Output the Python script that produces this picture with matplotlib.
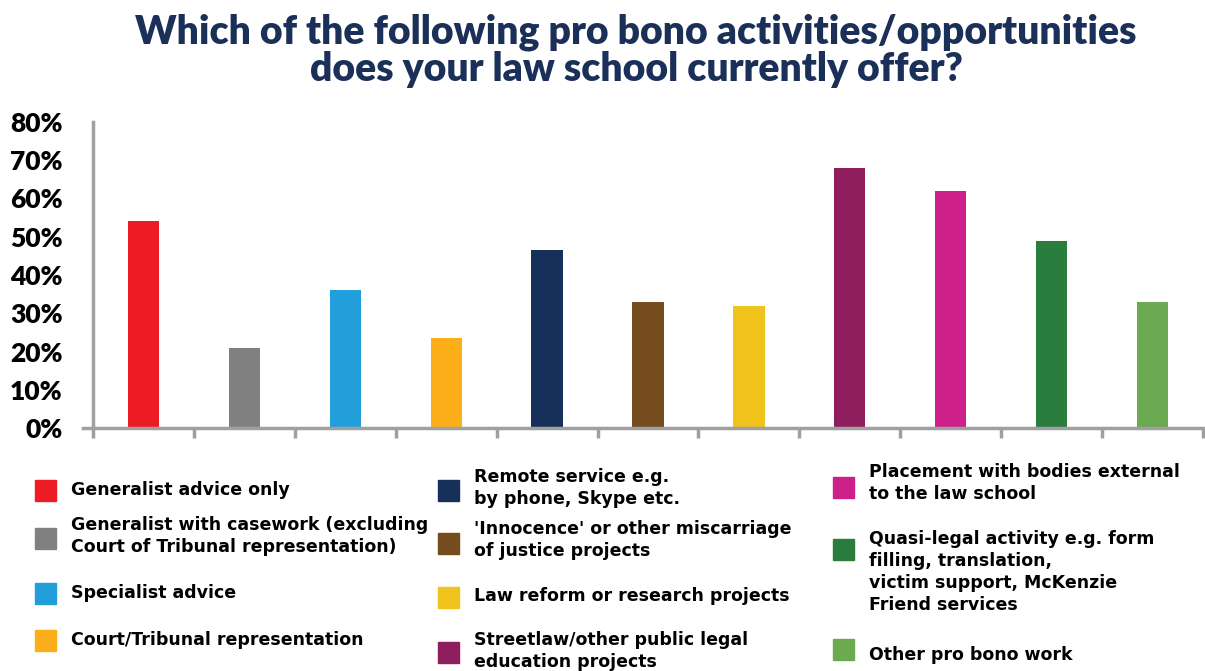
import matplotlib
matplotlib.use("Agg")
import matplotlib.pyplot as plt
from matplotlib.patches import Rectangle

# data
categories = [
    "Generalist advice only",
    "Generalist with casework (excluding\nCourt of Tribunal representation)",
    "Specialist advice",
    "Court/Tribunal representation",
    "Remote service e.g.\nby phone, Skype etc.",
    "'Innocence' or other miscarriage\nof justice projects",
    "Law reform or research projects",
    "Streetlaw/other public legal\neducation projects",
    "Placement with bodies external\nto the law school",
    "Quasi-legal activity e.g. form\nfilling, translation,\nvictim support, McKenzie\nFriend services",
    "Other pro bono work",
]
values = [0.54, 0.21, 0.36, 0.235, 0.465, 0.33, 0.32, 0.68, 0.62, 0.49, 0.33]
colors = ["#ED1C24", "#808080", "#229FDA", "#FBAE17", "#17305A", "#744C1E",
          "#F0C31C", "#8E1E5E", "#CE2089", "#2A7D3C", "#6CAA51"]
yticks = [0, 0.1, 0.2, 0.3, 0.4, 0.5, 0.6, 0.7, 0.8]
ytick_labels = ["0%", "10%", "20%", "30%", "40%", "50%", "60%", "70%", "80%"]

W, H = 1205, 671
fig = plt.figure(figsize=(W / 100, H / 100), dpi=100)
ax = fig.add_axes([83 / W, (H - 428) / H, (W - 83) / W, 306 / H])

x = list(range(len(values)))
ax.bar(x, values, width=0.31, color=colors)

spine_col = "#A0A0A0"
for s in ["top", "right"]:
    ax.spines[s].set_visible(False)
ax.spines["left"].set_position(("data", -0.5))
ax.spines["left"].set_color(spine_col)
ax.spines["left"].set_linewidth(2.5)
ax.spines["bottom"].set_color(spine_col)
ax.spines["bottom"].set_linewidth(2.5)

ax.set_xlim(-0.6, 10.52)
ax.set_ylim(0, 0.8)
ax.set_yticks(yticks)
ax.set_yticklabels(ytick_labels, fontsize=19, fontweight="heavy", family="Lato")
ax.tick_params(axis="y", length=0, pad=22)
ax.set_xticks([i - 0.5 for i in range(len(values) + 1)])
ax.set_xticklabels([])
ax.tick_params(axis="x", direction="out", length=7, width=2.5, color=spine_col)

fig.text(636 / W, 1 - 51 / H, "Which of the following pro bono activities/opportunities\ndoes your law school currently offer?",
         ha="center", va="center", fontsize=28.2, fontweight="heavy", family="Lato",
         color="#1B3058", linespacing=1.0)

# legend, drawn by hand in three columns
col_x = [35, 438, 833]
legend_pos = [
    (0, 490, 490), (0, 538, 536), (0, 593, 593), (0, 640, 640),
    (1, 490, 488), (1, 543, 540), (1, 597, 596), (1, 652, 651),
    (2, 487, 483), (2, 549, 572), (2, 649, 655),
]
for i, (c, my, ty) in enumerate(legend_pos):
    mx = col_x[c]
    fig.patches.append(Rectangle((mx / W, 1 - (my + 10.5) / H), 21 / W, 21 / H,
                                 transform=fig.transFigure, color=colors[i]))
    fig.text((mx + 36) / W, 1 - ty / H, categories[i], ha="left", va="center",
             fontsize=12.5, fontweight="bold", family="DejaVu Sans",
             linespacing=1.3)

fig.savefig("out.png", dpi=100)
